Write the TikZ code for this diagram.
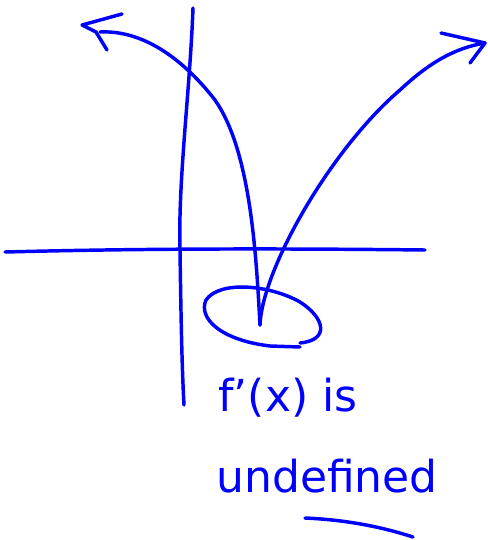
\documentclass[tikz,border=0pt]{standalone}
\usepackage{fontspec}
\setmainfont{DejaVu Sans}
\begin{document}
\begin{tikzpicture}[
        x=0.75pt, y=-0.75pt,
        pen/.style={blue, line width=2.6pt, line cap=round, line join=round},
        scrawl/.style={blue, inner sep=0pt, font=\fontsize{33}{38}\selectfont}
    ]

    \useasboundingbox (0,0) rectangle (488,540);

    \coordinate (V) at (260,325);
    \coordinate (L) at (82,25);
    \coordinate (R) at (485,43);

    % axes
    \draw[pen] (5,252) .. controls (120,249) and (250,248) .. (425,250);
    \draw[pen] (193,8) .. controls (190,90) and (178,180) .. (180,250)
        .. controls (181,320) and (182,370) .. (184,405);

    % left branch with its arrow head
    \draw[pen] (V) .. controls (256,250) and (250,150) .. (215,100)
        .. controls (180,55) and (140,30) .. (100,32);
    \draw[pen] (122,14) -- (L) -- (96,32) -- (107,50);

    % right branch with its arrow head
    \draw[pen] (V) .. controls (262,270) and (330,150) .. (400,90)
        .. controls (430,62) and (455,48) .. (R);
    \draw[pen] (441,33) -- (R) -- (470,63);

    % circle round the corner
    \draw[pen] (300,343) .. controls (330,340) and (325,318) .. (300,302)
        .. controls (270,285) and (220,280) .. (206,300)
        .. controls (198,318) and (220,340) .. (270,346) -- (300,347);

    \node[scrawl] (fx) at (288,398) {f'(x) is};
    \node[scrawl] (undef) at (327,476) {undefined};
    \draw[pen] (305,518) .. controls (350,520) and (385,528) .. (413,537);
\end{tikzpicture}
\end{document}
